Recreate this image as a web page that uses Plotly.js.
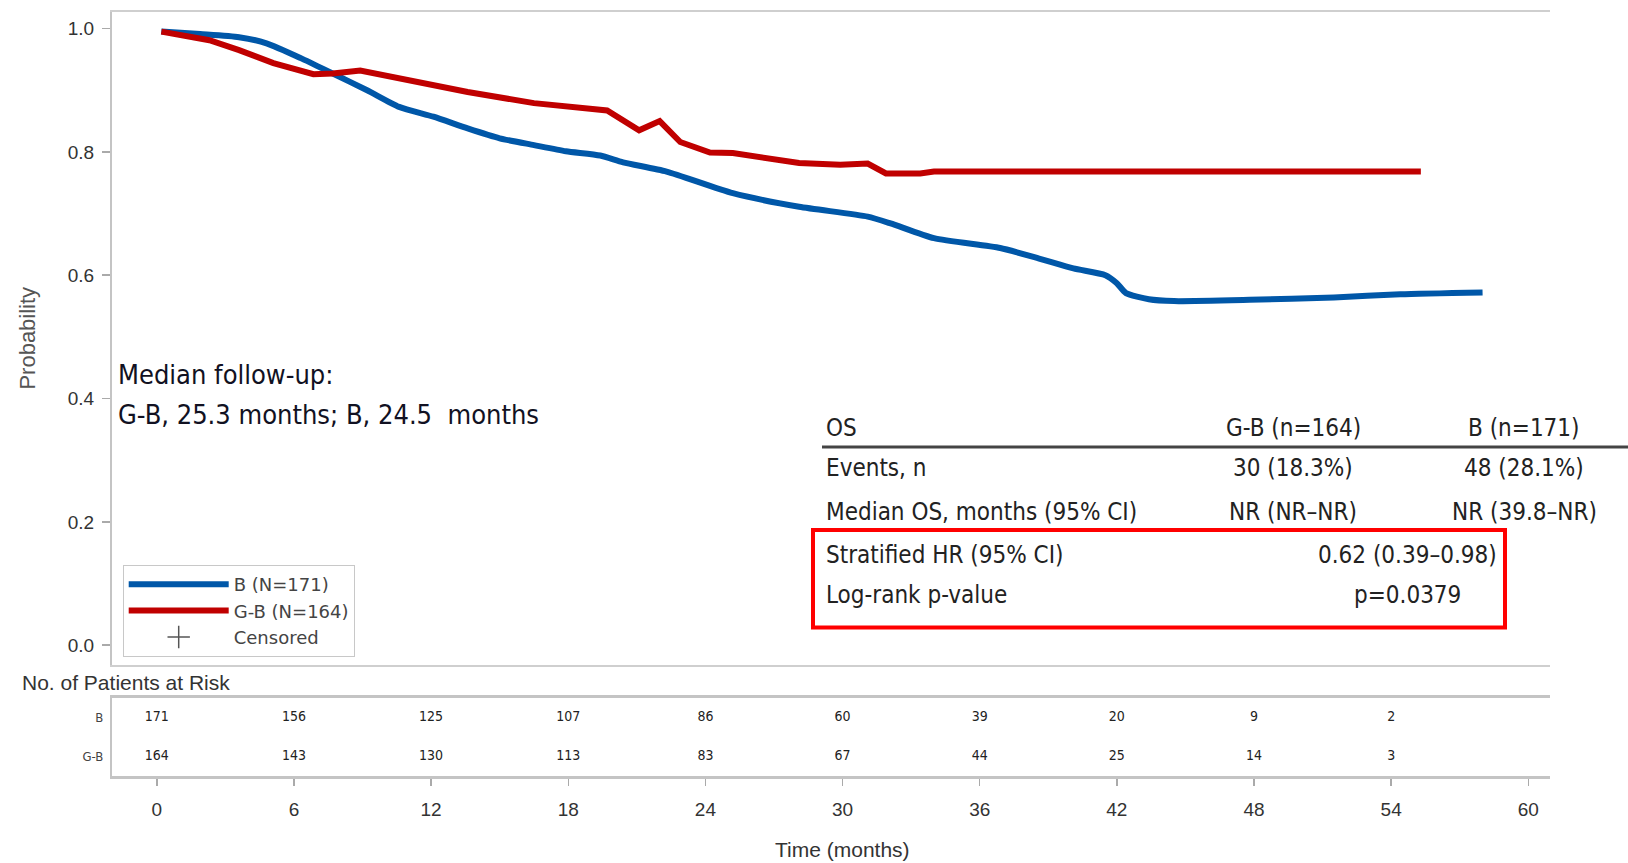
<!DOCTYPE html>
<html>
<head>
<meta charset="utf-8">
<script src="https://cdn.plot.ly/plotly-3.0.1.min.js"></script>
<style>html,body{margin:0;padding:0;background:#fff;}#chart{width:1628px;height:863px;}</style>
</head>
<body>
<div id="chart"></div>
<script>
// ---- data ----
const bMonths = [0.2, 1.9, 3.6, 4.8, 6.3, 7.7, 9.2, 10.6, 12.1, 13.6, 15.0, 16.5, 17.9, 19.4, 20.4, 22.3, 25.2, 28.1, 31.1, 32.1, 34.0, 36.9, 38.6, 40.1, 41.5, 42.0, 42.4, 43.4, 44.5, 47.8, 51.5, 54.4, 58.0];
const bSurv   = [0.995, 0.991, 0.986, 0.976, 0.952, 0.927, 0.900, 0.873, 0.857, 0.838, 0.822, 0.811, 0.801, 0.794, 0.783, 0.768, 0.733, 0.711, 0.695, 0.684, 0.660, 0.644, 0.627, 0.611, 0.600, 0.587, 0.571, 0.561, 0.558, 0.560, 0.564, 0.569, 0.572];
const gbMonths = [0.2, 2.3, 3.6, 5.1, 6.85, 7.7, 8.9, 10.6, 13.6, 16.5, 19.4, 19.7, 21.1, 22.0, 22.9, 24.2, 25.2, 28.1, 29.9, 31.1, 31.9, 33.4, 34.0, 55.3];
const gbSurv   = [0.995, 0.981, 0.965, 0.944, 0.926, 0.927, 0.932, 0.919, 0.897, 0.879, 0.870, 0.867, 0.835, 0.850, 0.816, 0.799, 0.798, 0.782, 0.779, 0.781, 0.765, 0.765, 0.768, 0.768];

const riskTimes = [0, 6, 12, 18, 24, 30, 36, 42, 48, 54];
const riskB  = [171, 156, 125, 107, 86, 60, 39, 20, 9, 2];
const riskGB = [164, 143, 130, 113, 83, 67, 44, 25, 14, 3];
const riskRows = ['G-B', 'B'];

const xTicks = [0, 6, 12, 18, 24, 30, 36, 42, 48, 54, 60];
const yTicks = [0, 0.2, 0.4, 0.6, 0.8, 1.0];

const legendNames = ['B (N=171)', 'G-B (N=164)', 'Censored'];
const followUp = ['Median follow-up:', 'G-B, 25.3 months; B, 24.5  months'];
const tableHeader = ['OS', 'G-B (n=164)', 'B (n=171)'];
const tableRows = [
  ['Events, n', '30 (18.3%)', '48 (28.1%)'],
  ['Median OS, months (95% CI)', 'NR (NR\u2013NR)', 'NR (39.8\u2013NR)']
];
const hrRows = [
  ['Stratified HR (95% CI)', '0.62 (0.39\u20130.98)'],
  ['Log-rank p-value', 'p=0.0379']
];

// ---- layout geometry (pixels -> paper) ----
const L = 112, R = 1550, T = 12, B = 776;
const W = R - L, H = B - T;
const px = x => (x - L) / W;
const py = y => (B - y) / H;

const narrow = '"DejaVu Sans Condensed", "Liberation Sans Narrow", sans-serif';
const sans = '"Liberation Sans", Arial, sans-serif';
const BLUE = '#0057a8', RED = '#c00000';

const traces = [
  {x: bMonths, y: bSurv, type: 'scatter', mode: 'lines', name: legendNames[0],
   line: {color: BLUE, width: 6, shape: 'spline', smoothing: 0.6}, xaxis: 'x2', yaxis: 'y'},
  {x: gbMonths, y: gbSurv, type: 'scatter', mode: 'lines', name: legendNames[1],
   line: {color: RED, width: 6, shape: 'linear'}, xaxis: 'x2', yaxis: 'y'},
  {x: [null], y: [null], type: 'scatter', mode: 'markers', name: legendNames[2],
   marker: {symbol: 'cross-thin', size: 16, color: '#555', line: {color: '#555', width: 1.5}}, xaxis: 'x2', yaxis: 'y'},
  {x: riskTimes, y: riskTimes.map(() => 'B'), text: riskB.map(String), type: 'scatter', mode: 'text',
   textfont: {family: narrow, size: 14, color: '#222'}, showlegend: false, xaxis: 'x', yaxis: 'y2', hoverinfo: 'skip'},
  {x: riskTimes, y: riskTimes.map(() => 'G-B'), text: riskGB.map(String), type: 'scatter', mode: 'text',
   textfont: {family: narrow, size: 14, color: '#222'}, showlegend: false, xaxis: 'x', yaxis: 'y2', hoverinfo: 'skip'}
];

const annotations = [];
// risk table heading
annotations.push({xref: 'paper', yref: 'paper', x: px(20), y: py(682), xanchor: 'left', yanchor: 'middle',
  text: 'No. of Patients at Risk', showarrow: false, font: {family: sans, size: 21, color: '#333'}});
// x axis title
annotations.push({xref: 'x', yref: 'paper', x: 30, y: py(849), xanchor: 'center', yanchor: 'middle',
  text: 'Time (months)', showarrow: false, font: {family: sans, size: 21, color: '#333'}});
// median follow-up
followUp.forEach((t, i) => annotations.push({xref: 'paper', yref: 'paper', x: px(116), y: py([375, 414][i]),
  xanchor: 'left', yanchor: 'middle', text: t, showarrow: false, font: {family: narrow, size: 27, color: '#111122'}}));
// OS table
const colX = [824, 1293, 1524];
const rowY = [428, 468, 512];
const tf = {family: narrow, size: 24, color: '#222'};
tableHeader.forEach((t, j) => annotations.push({xref: 'paper', yref: 'paper', x: px(colX[j]), y: py(rowY[0]),
  xanchor: j === 0 ? 'left' : 'center', yanchor: 'middle', text: t, showarrow: false, font: tf}));
tableRows.forEach((row, i) => row.forEach((t, j) => annotations.push({xref: 'paper', yref: 'paper',
  x: px(colX[j]), y: py(rowY[i + 1]), xanchor: j === 0 ? 'left' : 'center', yanchor: 'middle', text: t,
  showarrow: false, font: tf})));
const hrY = [555, 595];
hrRows.forEach((row, i) => row.forEach((t, j) => annotations.push({xref: 'paper', yref: 'paper',
  x: px(j === 0 ? 824 : 1407), y: py(hrY[i]), xanchor: j === 0 ? 'left' : 'center', yanchor: 'middle', text: t,
  showarrow: false, font: tf})));

const shapes = [
  {type: 'line', xref: 'paper', yref: 'paper', x0: px(822), x1: px(1628), y0: py(447), y1: py(447),
   line: {color: '#444', width: 3}},
  {type: 'rect', xref: 'paper', yref: 'paper', x0: px(813), x1: px(1505), y0: py(530), y1: py(627.5),
   line: {color: '#ff0000', width: 4}}
];

const tickFont = {family: sans, size: 19, color: '#333'};
const layout = {
  width: 1628, height: 863,
  margin: {l: L, r: 1628 - R, t: T, b: 863 - B, pad: 0},
  paper_bgcolor: '#fff', plot_bgcolor: '#fff',
  showlegend: true,
  legend: {x: px(122.7), y: py(565), xanchor: 'left', yanchor: 'top', bgcolor: '#fff',
    bordercolor: '#c8c8c8', borderwidth: 1, itemwidth: 100, tracegroupgap: 0,
    font: {family: '"DejaVu Sans", sans-serif', size: 18, color: '#444'}},
  xaxis: {domain: [0, 1], anchor: 'y2', range: [-1.96, 60.95], tickvals: xTicks, ticktext: xTicks.map(String),
    ticks: 'outside', ticklen: 7, tickcolor: '#aaa', tickwidth: 1.5, showline: true, linecolor: '#c4c4c4',
    linewidth: 2.5, mirror: true, showgrid: false, zeroline: false, tickfont: tickFont, ticklabelstandoff: 8},
  xaxis2: {domain: [0, 1], anchor: 'y', matches: 'x', range: [-1.96, 60.95], showticklabels: false, ticks: '',
    showline: true, linecolor: '#cfcfcf', linewidth: 2, mirror: true, showgrid: false, zeroline: false},
  yaxis: {domain: [py(664.5), 1], anchor: 'x2', range: [-0.0313, 1.0268], tickvals: yTicks,
    ticktext: yTicks.map(v => v.toFixed(1)), ticks: 'outside', ticklen: 8, tickcolor: '#aaa', tickwidth: 1.5,
    showline: true, linecolor: '#c4c4c4', linewidth: 2, showgrid: false, zeroline: false, tickfont: tickFont,
    ticklabelstandoff: 4,
    title: {text: 'Probability', font: {family: sans, size: 22, color: '#555'}, standoff: 26}},
  yaxis2: {domain: [0, py(697.7)], anchor: 'x', type: 'category', categoryorder: 'array', categoryarray: riskRows,
    range: [-0.5, 1.5], showline: true, linecolor: '#c4c4c4', linewidth: 2, ticks: '', showgrid: false,
    zeroline: false, tickfont: {family: narrow, size: 13, color: '#444'}, ticklabelstandoff: 4},
  annotations: annotations,
  shapes: shapes
};

Plotly.newPlot('chart', traces, layout, {displayModeBar: false, staticPlot: true});
</script>
</body>
</html>
